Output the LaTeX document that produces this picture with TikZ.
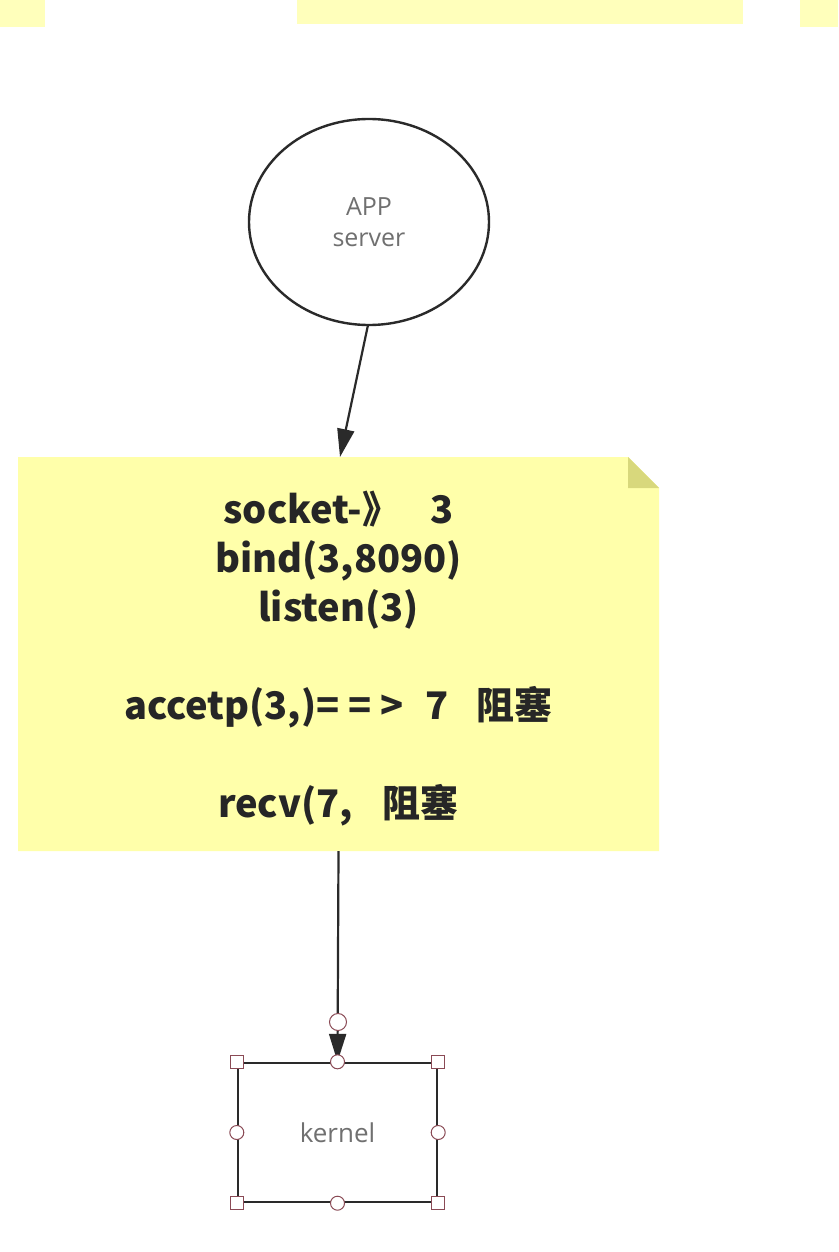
\documentclass[tikz,border=0pt]{standalone}
\usepackage{fontspec}
\setmainfont{Open Sans}
\newfontfamily\cjk{Noto Sans CJK SC}
\usetikzlibrary{arrows.meta,shapes.geometric}
\definecolor{noteyellow}{HTML}{FFFFAA}
\definecolor{stripyellow}{HTML}{FFFFBB}
\definecolor{folddark}{HTML}{D8D87C}
\definecolor{handlecol}{HTML}{8A4A55}
\definecolor{linecol}{HTML}{2A2A2A}
\definecolor{labelgray}{HTML}{707070}
\tikzset{
  conn/.style={draw=linecol, line width=2.2pt, -{Triangle[length=28pt,width=17pt]}},
  sqhandle/.style={draw=handlecol, fill=white, line width=1pt, minimum size=13pt, inner sep=0pt, rectangle},
  cihandle/.style={draw=handlecol, fill=white, line width=1pt, minimum size=14pt, inner sep=0pt, circle},
  notetext/.style={font=\cjk\bfseries\fontsize{38}{49}\selectfont, text=black!85, align=center},
}
\begin{document}
\begin{tikzpicture}[x=1pt,y=-1pt]
\useasboundingbox (0,0) rectangle (838,1252);
\fill[white] (0,0) rectangle (838,1252);
% top strips
\fill[stripyellow] (0,0) rectangle (45,27);
\fill[stripyellow] (297,0) rectangle (743,24);
\fill[stripyellow] (800,0) rectangle (838,27);
% ellipse
\node[draw=linecol, line width=2.4pt, ellipse, minimum width=240pt, minimum height=206pt, inner sep=0pt,
  align=center, text=labelgray, font=\fontsize{25}{31}\selectfont] (app) at (369,222) {APP\\server};
% note
\fill[noteyellow] (18,457) -- (628,457) -- (659,488) -- (659,851) -- (18,851) -- cycle;
\fill[folddark] (628,457) -- (659,488) -- (628,488) -- cycle;
\node[minimum width=641pt, minimum height=394pt, inner sep=0pt] (note) at (338.5,654) {};
\node[notetext, inner sep=0pt] (notetxt) at (338.5,659)
  {socket-》\kern30pt 3\\bind(3,8090)\\listen(3)\\[49pt]accetp(3,)=\kern9pt=\kern9pt>\kern22pt 7\kern28pt 阻塞\\[49pt]recv(7,\kern30pt 阻塞};
% kernel
\node[draw=linecol, line width=2.4pt, minimum width=199pt, minimum height=139pt, inner sep=0pt,
  text=labelgray, font=\fontsize{26}{30}\selectfont] (kernel) at (337.5,1132.5) {kernel};
% connectors
\coordinate (a1) at (368,325);
\coordinate (a2) at (340,457);
\draw[conn] (a1) -- (a2);
\draw[conn] (note.south) -- (kernel.north);
\node[cihandle, minimum size=17pt] (hc) at (338,1022) {};
% handles
\foreach \p in {north west, north east, south west, south east}
  \node[sqhandle] at (kernel.\p) {};
\foreach \p in {north, south, east, west}
  \node[cihandle] at (kernel.\p) {};
\end{tikzpicture}
\end{document}
